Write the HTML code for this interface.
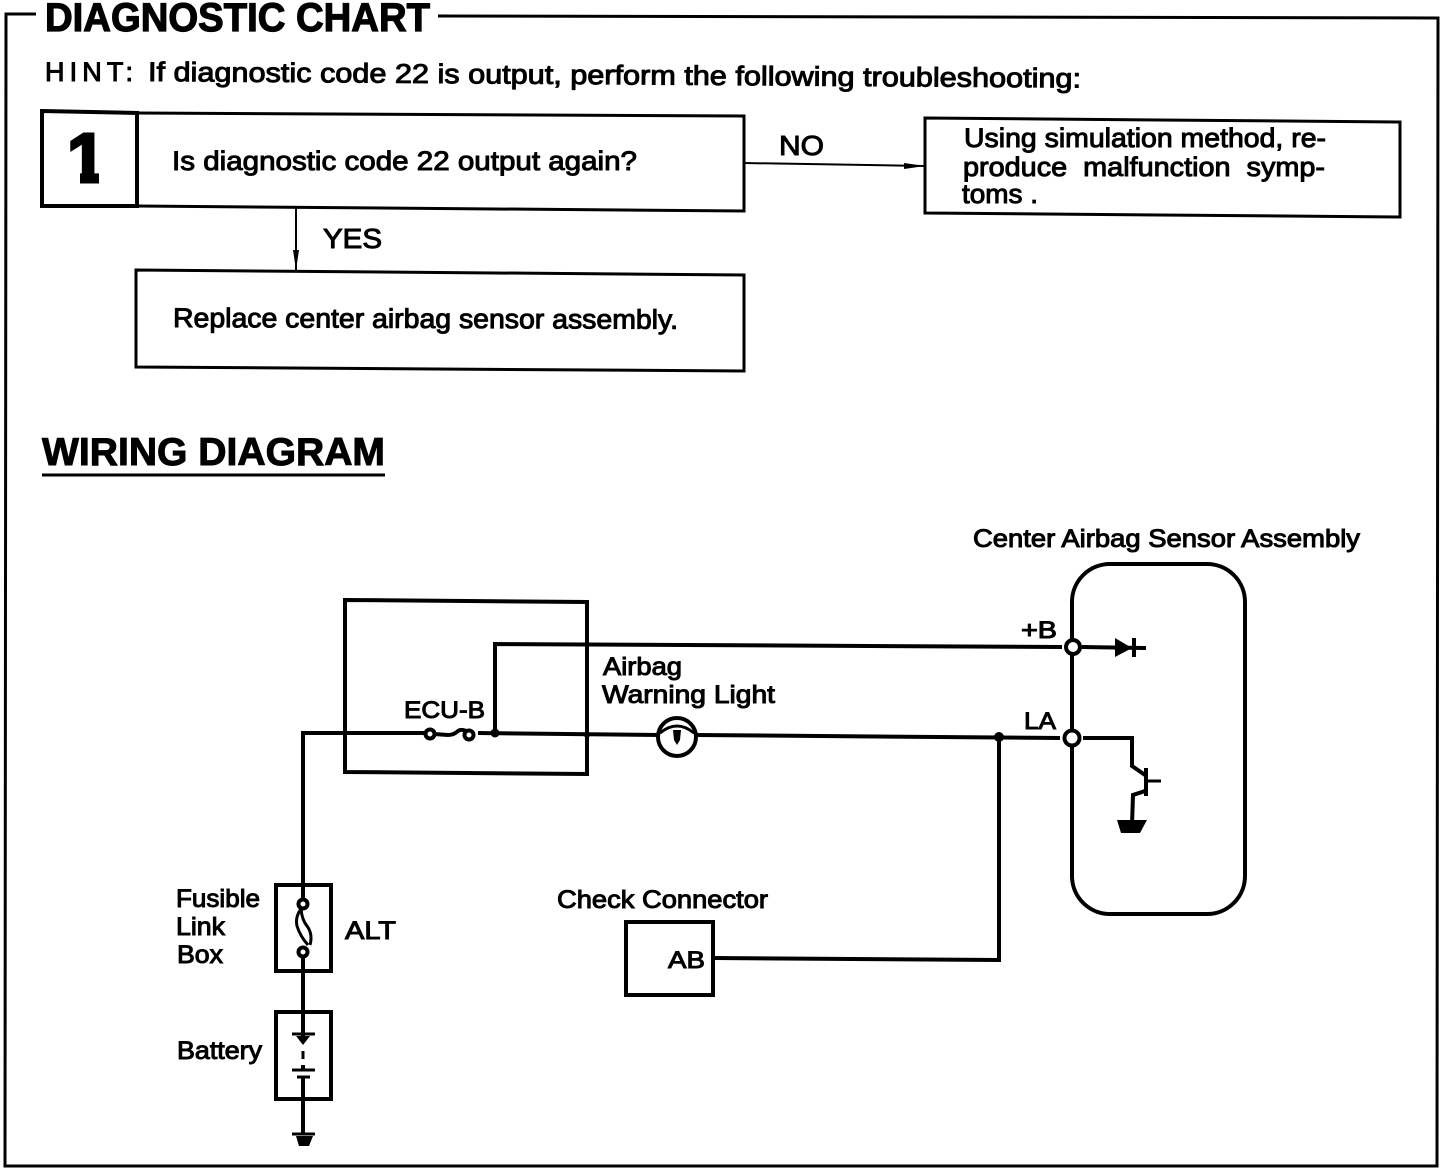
<!DOCTYPE html>
<html><head><meta charset="utf-8"><style>
html,body{margin:0;padding:0;background:#fff;width:1456px;height:1170px;overflow:hidden}
svg{display:block}
text{font-family:"Liberation Sans",sans-serif;fill:#000;stroke:#000;stroke-width:.5;font-weight:bold}
.n{font-weight:normal;stroke-width:1}
.l{fill:none;stroke:#000;stroke-width:3;stroke-linejoin:miter}
.w{fill:none;stroke:#000;stroke-width:4;stroke-linejoin:miter}
.t{fill:none;stroke:#000;stroke-width:2}
.c{fill:#fff;stroke:#000;stroke-width:4}
</style></head><body>
<svg width="1456" height="1170" viewBox="0 0 1456 1170" xmlns="http://www.w3.org/2000/svg">
<defs><clipPath id="one"><polygon points="68,130 99,130 99,184 80,184 80,152 68,152"/></clipPath></defs>
<!-- frame -->
<path class="l" d="M36 14 L6 14 L5 1166 L1437 1166 L1438 18 L438 16"/>
<text x="45" y="31" font-size="40" textLength="385" lengthAdjust="spacingAndGlyphs" style="stroke-width:1.2">DIAGNOSTIC CHART</text>
<text x="45" y="81" font-size="27" textLength="88" lengthAdjust="spacing" class="n">HINT:</text>
<text x="148" y="81" font-size="27" textLength="933" lengthAdjust="spacingAndGlyphs" transform="rotate(.4 148 81)" class="n">If diagnostic code 22 is output, perform the following troubleshooting:</text>
<!-- box 1 -->
<path class="w" d="M42 111 L137 113 L137 206 L42 206 Z"/>
<path class="l" d="M137 113 L744 116 L744 211 L137 206"/>
<g clip-path="url(#one)"><text x="67" y="182" font-size="70" style="stroke-width:3">1</text></g>
<text x="172" y="170" font-size="27" textLength="465" lengthAdjust="spacingAndGlyphs" class="n">Is diagnostic code 22 output again?</text>
<!-- NO -->
<path class="t" d="M744 163 L925 166"/>
<path d="M904 163 L925 166 L904 169 Z" fill="#000"/>
<text x="779" y="155" font-size="28" textLength="45" lengthAdjust="spacingAndGlyphs" class="n">NO</text>
<path class="l" d="M925 118 L1400 122 L1400 217 L925 213 Z"/>
<text x="964" y="147" font-size="27" textLength="362" lengthAdjust="spacingAndGlyphs" class="n">Using simulation method, re-</text>
<text x="963" y="176" font-size="27" textLength="362" lengthAdjust="spacingAndGlyphs" class="n" xml:space="preserve">produce  malfunction  symp-</text>
<text x="962" y="203" font-size="27" textLength="76" lengthAdjust="spacingAndGlyphs" class="n">toms .</text>
<!-- YES -->
<path class="t" d="M296 208 L296 270"/>
<path d="M293 250 L296 270 L299 250 Z" fill="#000"/>
<text x="323" y="248" font-size="28" textLength="59" lengthAdjust="spacingAndGlyphs" class="n">YES</text>
<path class="l" d="M136 270 L744 275 L744 371 L136 367 Z"/>
<text x="173" y="327" font-size="27" textLength="505" lengthAdjust="spacingAndGlyphs" transform="rotate(.2 173 327)" class="n">Replace center airbag sensor assembly.</text>
<!-- wiring heading -->
<text x="42" y="465" font-size="39" textLength="343" lengthAdjust="spacingAndGlyphs" style="stroke-width:1">WIRING DIAGRAM</text>
<path class="l" d="M42 475 L385 475"/>
<text x="973" y="547" font-size="25" textLength="387" lengthAdjust="spacingAndGlyphs" class="n">Center Airbag Sensor Assembly</text>
<!-- sensor assembly -->
<rect class="w" x="1072" y="564" width="173" height="350" rx="38" ry="38"/>
<!-- relay block -->
<path class="w" d="M345 600 L587 602 L587 774 L345 772 Z"/>
<!-- wires -->
<path class="w" d="M303 884 L303 733 L427 733"/>
<path class="w" d="M478 733 L660 735"/>
<path class="w" d="M695 735 L1060 738"/>
<path class="w" d="M495 733 L495 644 L1062 647"/>
<path class="w" d="M1082 647 L1146 648"/>
<path class="w" d="M1072 647 L1072 738"/>
<path class="w" d="M1083 738 L1132 738 L1132 766 L1145 775"/>
<path class="w" d="M1145 791 L1133 795 L1132 825"/>
<path class="w" d="M1146 768 L1146 796"/>
<path class="l" d="M1146 781 L1161 781"/>
<path d="M1117 820 L1147 820 L1140 833 L1121 833 Z" fill="#000"/>
<path d="M1115 638 L1132 648 L1115 657 Z" fill="#000"/>
<path d="M1132 638 L1136 638 L1136 657 L1132 657 Z" fill="#000"/>
<!-- junctions -->
<circle cx="495" cy="733" r="4.5" fill="#000"/>
<circle cx="587" cy="735" r="3" fill="#000"/>
<circle cx="345" cy="733" r="3" fill="#000"/>
<circle cx="999" cy="737" r="5" fill="#000"/>
<circle class="c" cx="1073" cy="647" r="7"/>
<circle class="c" cx="1072" cy="738" r="7.5"/>
<text x="1021" y="638" font-size="24" textLength="36" lengthAdjust="spacingAndGlyphs" class="n">+B</text>
<text x="1024" y="729" font-size="24" textLength="32" lengthAdjust="spacingAndGlyphs" class="n">LA</text>
<!-- ECU-B fuse -->
<path class="w" d="M434 734 L448 735 Q454 735 458 731 Q462 728 470 733"/>
<circle class="c" cx="430" cy="734" r="4.5"/>
<circle class="c" cx="469" cy="735" r="4.5"/>
<text x="404" y="718" font-size="24" textLength="81" lengthAdjust="spacingAndGlyphs" class="n">ECU-B</text>
<!-- Lamp -->
<circle cx="677" cy="737" r="19" fill="#fff" stroke="#000" stroke-width="4"/>
<path d="M660 733 Q677 719 694 733" fill="none" stroke="#000" stroke-width="3"/>
<path d="M673 730 L681 730 L680 740 L677 745 L674 740 Z" fill="#000"/>
<text x="603" y="675" font-size="25" textLength="79" lengthAdjust="spacingAndGlyphs" class="n">Airbag</text>
<text x="602" y="703" font-size="25" textLength="173" lengthAdjust="spacingAndGlyphs" class="n">Warning Light</text>
<!-- Check connector -->
<path class="w" d="M999 737 L999 960 L714 958"/>
<rect class="w" x="626" y="922" width="87" height="73"/>
<text x="668" y="968" font-size="24" textLength="37" lengthAdjust="spacingAndGlyphs" class="n">AB</text>
<text x="557" y="908" font-size="25" textLength="211" lengthAdjust="spacingAndGlyphs" class="n">Check Connector</text>
<!-- Fusible link -->
<rect class="w" x="276" y="885" width="55" height="86"/>
<path class="w" d="M303 884 L303 900"/>
<path class="w" d="M303 956 L303 1012"/>
<path d="M301 909 Q295 917 297 926 Q300 936 308 945" class="l"/>
<path d="M301 909 Q302 920 307 926 Q313 934 310 945" class="l"/>
<circle class="c" cx="303" cy="904" r="4.5"/>
<circle class="c" cx="303" cy="952" r="4.5"/>
<text x="176" y="907" font-size="25" textLength="84" lengthAdjust="spacingAndGlyphs" class="n">Fusible</text>
<text x="176" y="935" font-size="25" textLength="49" lengthAdjust="spacingAndGlyphs" class="n">Link</text>
<text x="177" y="963" font-size="25" textLength="46" lengthAdjust="spacingAndGlyphs" class="n">Box</text>
<text x="345" y="939" font-size="25" textLength="51" lengthAdjust="spacingAndGlyphs" class="n">ALT</text>
<!-- Battery -->
<rect class="w" x="276" y="1012" width="55" height="87"/>
<path class="w" d="M303 1012 L303 1036"/>
<path class="l" d="M292 1034 L315 1034"/>
<path d="M296 1036 L310 1036 L303 1045 Z" fill="#000"/>
<path class="l" d="M303 1051 L303 1059"/>
<path class="l" d="M292 1070 L315 1070"/>
<path class="l" d="M297 1077 L310 1077"/>
<path class="w" d="M303 1065 L303 1070 M303 1077 L303 1134"/>
<path class="l" d="M292 1134 L315 1134"/>
<path d="M296 1136 L313 1136 L309 1146 L299 1146 Z" fill="#000"/>
<text x="177" y="1059" font-size="25" textLength="85" lengthAdjust="spacingAndGlyphs" class="n">Battery</text>
</svg>
</body></html>
